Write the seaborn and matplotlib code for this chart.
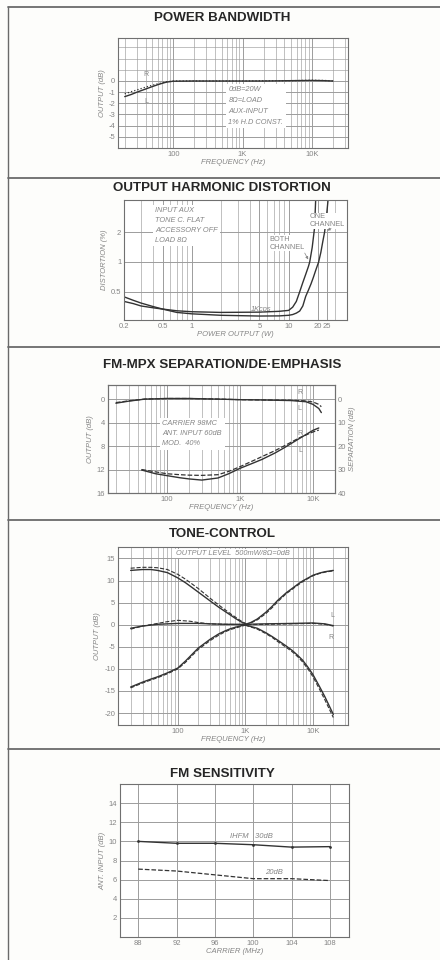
import matplotlib
matplotlib.use('Agg')
import numpy as np
import matplotlib.pyplot as plt
import seaborn as sns
from matplotlib.lines import Line2D
from matplotlib.ticker import FixedLocator, LogLocator, NullFormatter, NullLocator

# ---- data ----
# power bandwidth
pb_freq = [20, 25, 30, 40, 50, 60, 70, 80, 100, 200, 500, 1000, 2000, 5000, 10000, 15000, 20000]
pb_r = [-1.15, -0.95, -0.8, -0.55, -0.38, -0.25, -0.15, -0.07, 0.0, 0.0, 0.0, 0.0, 0.02, 0.03, 0.07, 0.05, 0.0]
pb_l = [-1.4, -1.2, -1.0, -0.72, -0.5, -0.33, -0.2, -0.1, -0.02, 0.0, 0.0, 0.0, 0.0, 0.03, 0.05, 0.03, 0.0]

# harmonic distortion vs power
thd_both_w = [0.2, 0.25, 0.3, 0.4, 0.5, 0.7, 1, 2, 5, 8, 10, 11, 12, 13, 14, 15, 16, 16.5, 17.5, 18.5, 19]
thd_both = [0.40, 0.38, 0.36, 0.345, 0.335, 0.322, 0.315, 0.31, 0.312, 0.318, 0.325, 0.35, 0.40, 0.50, 0.62, 0.75,
            0.9, 1.0, 1.4, 2.2, 4.2]
thd_one_w = [0.2, 0.25, 0.3, 0.4, 0.5, 0.7, 1, 2, 5, 8, 10, 11, 12, 13, 14, 15, 16, 17, 18, 19, 20.4, 21.5,
             22.5, 23.5, 24.5, 25.5]
thd_one = [0.445, 0.41, 0.385, 0.355, 0.335, 0.31, 0.30, 0.29, 0.285, 0.286, 0.29, 0.295, 0.305, 0.32, 0.36,
           0.45, 0.52, 0.6, 0.7, 0.82, 1.0, 1.25, 1.6, 2.0, 2.8, 4.2]

# fm-mpx output (dB, down positive) and separation (dB)
mpx_freq = [20, 30, 50, 100, 200, 500, 1000, 2000, 5000, 8000, 10000, 12000, 13000]
mpx_out_r = [0.6, 0.3, 0.0, -0.1, -0.1, 0.0, 0.1, 0.15, 0.2, 0.3, 0.5, 0.9, 1.3]
mpx_out_l = [0.7, 0.35, 0.0, -0.1, -0.1, 0.0, 0.1, 0.15, 0.25, 0.45, 0.9, 1.6, 2.3]
sep_freq = [45, 70, 100, 150, 200, 300, 500, 700, 1000, 1500, 2000, 3000, 4000, 6500, 10000, 12000]
sep_l = [30.2, 31.8, 32.6, 33.5, 34.0, 34.5, 33.6, 31.8, 29.5, 27.3, 25.7, 23.0, 20.8, 16.8, 13.3, 12.3]
sep_r = [30.0, 31.0, 31.8, 32.2, 32.4, 32.5, 32.2, 30.8, 28.8, 26.3, 24.5, 22.0, 20.0, 16.5, 14.0, 13.2]

# tone control
bass_freq = [20, 30, 40, 50, 70, 100, 130, 160, 200, 250, 300, 400, 500, 600, 700, 850, 1000]
bass_boost = [12.3, 12.5, 12.5, 12.3, 11.8, 10.6, 9.5, 8.5, 7.4, 6.3, 5.4, 4.0, 3.0, 2.2, 1.5, 0.7, 0.2]
bass_boost_r = [12.8, 13.0, 13.0, 12.9, 12.5, 11.4, 10.3, 9.3, 8.2, 7.0, 6.0, 4.5, 3.4, 2.5, 1.8, 0.9, 0.3]
bass_cut = [-14.1, -13.0, -12.3, -11.8, -10.9, -9.8, -8.2, -6.8, -5.3, -4.2, -3.3, -2.1, -1.4, -0.9, -0.6,
            -0.25, 0.0]
bass_cut_r = [-14.3, -13.2, -12.5, -12.0, -11.1, -10.0, -8.5, -7.1, -5.6, -4.5, -3.6, -2.4, -1.6, -1.1, -0.8,
              -0.4, -0.1]
treb_freq = [1000, 1200, 1500, 2000, 2500, 3000, 4000, 5000, 6000, 7000, 8500, 10000, 12500, 15000, 20000]
treb_boost = [0.1, 0.5, 1.3, 2.8, 4.2, 5.5, 7.2, 8.3, 9.2, 9.9, 10.6, 11.2, 11.7, 12.0, 12.3]
treb_boost_r = [0.0, 0.4, 1.1, 2.5, 3.9, 5.2, 7.0, 8.1, 9.0, 9.7, 10.5, 11.1, 11.6, 11.9, 12.2]
treb_cut = [-0.1, -0.4, -0.8, -1.8, -2.7, -3.5, -4.8, -5.9, -7.0, -8.0, -9.7, -11.3, -14.0, -16.3, -20.3]
treb_cut_r = [-0.1, -0.5, -1.0, -2.0, -2.9, -3.8, -5.1, -6.2, -7.3, -8.4, -10.1, -11.8, -14.6, -17.0, -21.0]
flat_freq = [20, 30, 50, 70, 100, 150, 200, 300, 500, 1000, 2000, 5000, 10000, 15000, 20000]
flat_l = [-0.8, -0.3, 0.1, 0.2, 0.3, 0.3, 0.3, 0.2, 0.1, 0.1, 0.2, 0.3, 0.4, 0.2, -0.2]
flat_r = [-1.0, -0.3, 0.3, 0.7, 1.0, 0.8, 0.5, 0.2, 0.1, 0.0, 0.1, 0.2, 0.3, 0.1, -0.3]

# fm sensitivity
carrier = [88, 92, 96, 100, 104, 108]
ihfm_30db = [10.0, 9.8, 9.8, 9.65, 9.4, 9.45]
quiet_20db = [7.1, 6.9, 6.5, 6.1, 6.1, 5.9]

# ---- drawing ----
sns.set_theme(style='white')
plt.rcParams['font.family'] = ['Liberation Sans', 'DejaVu Sans']
plt.rcParams['axes.unicode_minus'] = False

W, H = 440, 960
INK = '#333333'
GRID = '#9c9c9c'
TXT = '#858585'

fig = plt.figure(figsize=(4.4, 9.6), dpi=100, facecolor='#fdfdfb')


def box(l, t, r, b):
    return fig.add_axes([l / W, 1 - b / H, (r - l) / W, (b - t) / H])


def style(ax, xlabel, ylabel):
    ax.set_facecolor('white')
    for s in ax.spines.values():
        s.set_color('#707070')
        s.set_linewidth(0.8)
    ax.tick_params(which='both', length=0, labelsize=5.5, labelcolor=TXT, pad=2)
    ax.grid(which='major', color=GRID, lw=0.7)
    ax.grid(which='minor', color=GRID, lw=0.45)
    ax.set_xlabel(xlabel, fontsize=5.5, color=TXT, style='italic', labelpad=1)
    ax.set_ylabel(ylabel, fontsize=5.5, color=TXT, style='italic', labelpad=2)


def logx(ax, ticks, labels):
    ax.set_xscale('log')
    ax.xaxis.set_major_locator(FixedLocator(ticks))
    ax.set_xticklabels(labels)
    ax.xaxis.set_minor_locator(LogLocator(base=10, subs=np.arange(2, 10), numticks=100))
    ax.xaxis.set_minor_formatter(NullFormatter())


def title(y, s):
    fig.text(222 / W, 1 - y / H, s, ha='center', va='center', fontsize=9.6,
             fontweight='bold', color='#262626')


def note(ax, x, y, s, **kw):
    ax.text(x, y, s, transform=ax.transAxes, fontsize=5.3, color=TXT,
            style='italic', **kw)


# 1. power bandwidth
ax = box(118, 38, 348, 148)
logx(ax, [100, 1000, 10000], ['100', '1K', '10K'])
ax.set_xlim(16, 33000)
ax.set_ylim(-6, 3.85)
ax.yaxis.set_major_locator(FixedLocator([-5, -4, -3, -2, -1, 0]))
ax.yaxis.set_minor_locator(FixedLocator([1, 2, 3]))
sns.lineplot(x=pb_freq, y=pb_r, ax=ax, color=INK, lw=0.9, linestyle=':')
sns.lineplot(x=pb_freq, y=pb_l, ax=ax, color=INK, lw=1.0)
style(ax, 'FREQUENCY (Hz)', 'OUTPUT (dB)')
ax.text(37, 0.45, 'R', fontsize=5, color=TXT)
ax.text(38, -1.55, 'L', fontsize=5, color=TXT, va='top')
note(ax, 0.48, 0.56, '0dB=20W\n8Ω=LOAD\nAUX-INPUT\n1% H.D CONST.', va='top',
     linespacing=1.75, bbox=dict(facecolor='white', edgecolor='none', pad=2))
title(18, 'POWER BANDWIDTH')

# 2. output harmonic distortion
ax = box(124, 200, 347, 320)
logx(ax, [0.2, 0.5, 1, 5, 10, 20, 25], ['0.2', '0.5', '1', '5', '10', '20', '25'])
ax.set_yscale('log')
ax.yaxis.set_major_locator(FixedLocator([0.5, 1, 2]))
ax.set_yticklabels(['0.5', '1', '2'])
ax.yaxis.set_minor_locator(NullLocator())
ax.set_xlim(0.2, 40)
ax.set_ylim(0.26, 4.2)
sns.lineplot(x=thd_both_w, y=thd_both, ax=ax, color=INK, lw=1.0)
sns.lineplot(x=thd_one_w, y=thd_one, ax=ax, color=INK, lw=1.0)
style(ax, 'POWER OUTPUT (W)', 'DISTORTION (%)')
note(ax, 0.14, 0.94, 'INPUT AUX\nTONE C. FLAT\nACCESSORY OFF\nLOAD 8Ω', va='top',
     linespacing=1.6, bbox=dict(facecolor='white', edgecolor='none', pad=1.5))
ax.text(6.3, 1.54, 'BOTH\nCHANNEL', fontsize=5.3, color=TXT, va='center',
        linespacing=1.2, bbox=dict(facecolor='white', edgecolor='none', pad=0.5))
ax.text(16.5, 2.6, 'ONE\nCHANNEL', fontsize=5.3, color=TXT, va='center',
        linespacing=1.2, bbox=dict(facecolor='white', edgecolor='none', pad=0.5))
ax.annotate('', xy=(16.4, 1.0), xytext=(14.2, 1.3),
            arrowprops=dict(arrowstyle='-|>', color=TXT, lw=0.5, mutation_scale=4))
ax.annotate('', xy=(23.7, 2.0), xytext=(29, 2.25),
            arrowprops=dict(arrowstyle='-|>', color=TXT, lw=0.5, mutation_scale=4))
note(ax, 0.57, 0.09, '1Kcps', va='center')
title(188, 'OUTPUT HARMONIC DISTORTION')

# 3. fm-mpx separation / de-emphasis
ax = box(108, 385, 335, 493)
logx(ax, [100, 1000, 10000], ['100', '1K', '10K'])
ax.set_xlim(15.6, 20000)
ax.set_ylim(16, -2.4)
ax.yaxis.set_major_locator(FixedLocator([0, 4, 8, 12, 16]))
sns.lineplot(x=mpx_freq, y=mpx_out_r, ax=ax, color=INK, lw=0.9, linestyle='--')
sns.lineplot(x=mpx_freq, y=mpx_out_l, ax=ax, color=INK, lw=1.0)
style(ax, 'FREQUENCY (Hz)', 'OUTPUT (dB)')
ax2 = ax.twinx()
ax2.set_ylim(40, -6)
ax2.yaxis.set_major_locator(FixedLocator([0, 10, 20, 30, 40]))
sns.lineplot(x=sep_freq, y=sep_r, ax=ax2, color=INK, lw=0.9, linestyle='--')
sns.lineplot(x=sep_freq, y=sep_l, ax=ax2, color=INK, lw=1.0)
ax2.grid(False)
ax2.tick_params(length=0, labelsize=5.5, labelcolor=TXT, pad=2)
ax2.set_ylabel('SEPARATION (dB)', fontsize=5.5, color=TXT, style='italic', labelpad=2)
for s in ax2.spines.values():
    s.set_color('#707070')
    s.set_linewidth(0.8)
for x, y, s in [(6200, -1.2, 'R'), (6200, 1.6, 'L'), (6200, 5.8, 'R'), (6300, 8.7, 'L')]:
    ax.text(x, y, s, fontsize=5, color=TXT, va='center')
note(ax, 0.24, 0.55, 'CARRIER 98MC\nANT. INPUT 60dB\nMOD.  40%', va='center',
     linespacing=1.55, bbox=dict(facecolor='white', edgecolor='none', pad=2))
title(365, 'FM-MPX SEPARATION/DE·EMPHASIS')

# 4. tone control
ax = box(118, 547, 348, 725)
logx(ax, [100, 1000, 10000], ['100', '1K', '10K'])
ax.set_xlim(13, 33000)
ax.set_ylim(-22.7, 17.6)
ax.yaxis.set_major_locator(FixedLocator([-20, -15, -10, -5, 0, 5, 10, 15]))
for xs, ys, ls in [(bass_freq, bass_boost, '-'), (bass_freq, bass_boost_r, '--'),
                   (bass_freq, bass_cut, '-'), (bass_freq, bass_cut_r, '--'),
                   (treb_freq, treb_boost, '-'), (treb_freq, treb_boost_r, '--'),
                   (treb_freq, treb_cut, '-'), (treb_freq, treb_cut_r, '--'),
                   (flat_freq, flat_l, '-'), (flat_freq, flat_r, '--')]:
    sns.lineplot(x=xs, y=ys, ax=ax, color=INK, lw=1.0 if ls == '-' else 0.8, linestyle=ls)
style(ax, 'FREQUENCY (Hz)', 'OUTPUT (dB)')
note(ax, 0.5, 0.985, 'OUTPUT LEVEL  500mW/8Ω=0dB', ha='center', va='top',
     bbox=dict(facecolor='white', edgecolor='none', pad=0.8))
ax.text(18000, 2.1, 'L', fontsize=5, color=TXT, va='center')
ax.text(17000, -3.0, 'R', fontsize=5, color=TXT, va='center')
title(534, 'TONE-CONTROL')

# 5. fm sensitivity
ax = box(120, 784, 349, 937)
ax.set_xlim(86.1, 110)
ax.set_ylim(0, 16)
ax.xaxis.set_major_locator(FixedLocator(carrier))
ax.yaxis.set_major_locator(FixedLocator([2, 4, 6, 8, 10, 12, 14]))
sns.lineplot(x=carrier, y=ihfm_30db, ax=ax, color=INK, lw=1.0, marker='o', markersize=2,
             markeredgewidth=0)
sns.lineplot(x=carrier, y=quiet_20db, ax=ax, color=INK, lw=0.9, linestyle='--')
style(ax, 'CARRIER (MHz)', 'ANT. INPUT (dB)')
ax.text(97.6, 10.5, 'IHFM   30dB', fontsize=5.5, color=TXT, style='italic', va='center')
ax.text(101.2, 6.7, '20dB', fontsize=5.5, color=TXT, style='italic', va='center')
title(774, 'FM SENSITIVITY')

# page frame of the sheet
for y in [7, 178, 347, 520, 749]:
    fig.add_artist(Line2D([8 / W, 1], [1 - y / H, 1 - y / H], color='#6a6a6a', lw=1.3))
fig.add_artist(Line2D([8 / W, 8 / W], [1 - 7 / H, 0], color='#6a6a6a', lw=1.0))

fig.savefig('out.png', dpi=100, facecolor=fig.get_facecolor())
